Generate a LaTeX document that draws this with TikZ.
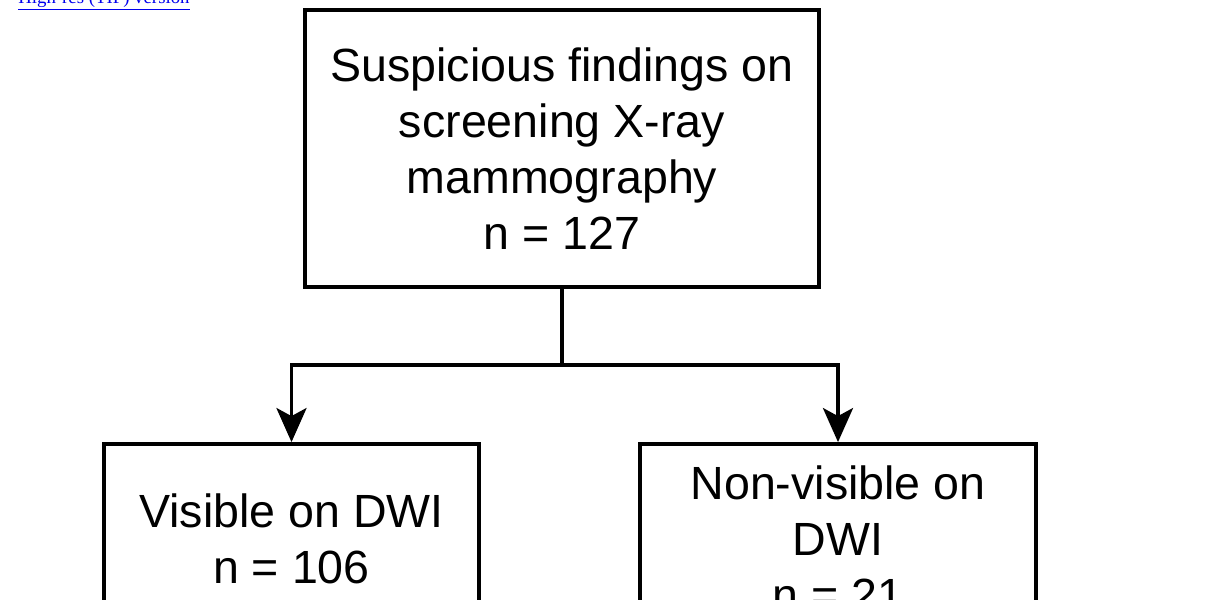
\documentclass[tikz,border=0pt]{standalone}
\usepackage{fontspec}
\setmainfont{Liberation Sans}
\newfontfamily\linkfont{Liberation Serif}
\usetikzlibrary{arrows.meta,positioning}
\definecolor{linkblue}{RGB}{0,0,238}

\tikzset{
  box/.style={draw, line width=2.2pt, align=center, inner sep=0pt,
    font=\fontsize{26.5}{31.8}\selectfont},
  link/.style={line width=2.2pt},
  flow/.style={link, -{Stealth[length=0.68cm,width=0.6cm,inset=0.16cm]}},
}

\begin{document}
\begin{tikzpicture}[x=0.02cm,y=-0.02cm]
\fill[white] (0,0) rectangle (1214,599);
\useasboundingbox (0,0) rectangle (1214,599);
\clip (0,0) rectangle (1214,599);

% link above the figure (cut at the top edge)
\node[anchor=base west, inner sep=0pt, text=linkblue,
  font=\linkfont\fontsize{10.7}{12}\selectfont] (hires) at (18,3) {\underline{High-res (TIF) version}};

\node[box, minimum width=10.28cm, minimum height=5.54cm] (screen) at (562,148.5)
  {Suspicious findings on\\screening X-ray\\mammography\\n = 127};
\node[box, minimum width=7.5cm, minimum height=3.78cm] (vis) at (291.5,538.5)
  {Visible on DWI\\n = 106};
\node[box, minimum width=7.92cm, minimum height=3.78cm] (nonvis) at (838,538.5)
  {Non-visible on\\DWI\\n = 21};

\coordinate (split) at (562,365);
\draw[link] (screen.south) -- (split);
\draw[flow] (split) -| (vis.north);
\draw[flow] (split) -| (nonvis.north);
\end{tikzpicture}
\end{document}
